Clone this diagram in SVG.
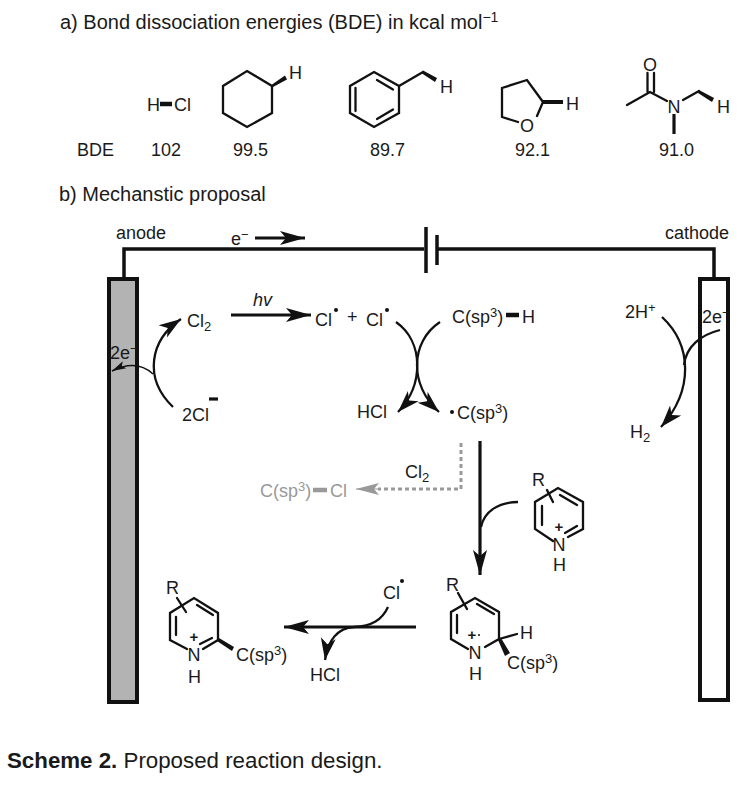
<svg xmlns="http://www.w3.org/2000/svg" width="752" height="785" viewBox="0 0 752 785">
<style>
text{font-family:"Liberation Sans",Arial,sans-serif;font-size:18px;fill:#1a1a1a}
.h{font-size:20px}
.cap{font-size:22.300px}
.sub{font-size:13px}
.hs{font-size:14px}
.g{fill:#999}
.p{font-weight:bold;font-size:15px;text-anchor:middle}
.b{fill:none;stroke:#111;stroke-width:2.300;stroke-linecap:round;stroke-linejoin:miter}
.c{fill:none;stroke:#111;stroke-width:2.300}
.w{fill:#111;stroke:none}
.bold{fill:none;stroke:#111;stroke-width:4.500}
.bar{fill:none;stroke:#111;stroke-width:3.200}
</style>
<defs>
<marker id="big" markerUnits="userSpaceOnUse" markerWidth="28" markerHeight="18" refX="25" refY="9" orient="auto"><path d="M0 2 L25 9 L0 16 L6 9Z" fill="#111"/></marker>
<marker id="mid" markerUnits="userSpaceOnUse" markerWidth="26" markerHeight="18" refX="22" refY="9" orient="auto"><path d="M0 1.500 L22 9 L0 16.500 L6 9Z" fill="#111"/></marker>
<marker id="small" markerUnits="userSpaceOnUse" markerWidth="18" markerHeight="12" refX="14" refY="6" orient="auto"><path d="M0 2 L14 6 L0 10 L3 6Z" fill="#111"/></marker>
<marker id="gray" markerUnits="userSpaceOnUse" markerWidth="26" markerHeight="16" refX="23" refY="8" orient="auto"><path d="M0 2 L23 8 L0 14 L5 8Z" fill="#999"/></marker>
</defs>
<rect width="752" height="785" fill="#fff"/>

<g id="headings">
<text class="h" x="60" y="29">a) Bond dissociation energies (BDE) in kcal mol<tspan class="hs" dy="-7">−1</tspan></text>
<text class="h" x="59" y="201">b) Mechanstic proposal</text>
<text x="77" y="156">BDE</text>
<text class="cap" x="7" y="768"><tspan font-weight="bold">Scheme 2.</tspan> Proposed reaction design.</text>
</g>

<g id="hcl">
<text x="147" y="111">H</text><path class="bold" d="M160 104H172"/><text x="174" y="111">Cl</text>
<text x="151" y="156">102</text>
</g>
<g id="cyclohexane">
<path class="b" d="M247 71L272 86V113L247 127L223 113V86Z"/><path class="w" d="M272 84.500L285 75.500L287 79.500L273 87Z"/>
<text x="289" y="79">H</text><text x="233" y="156">99.5</text>
</g>
<g id="toluene">
<path class="b" d="M374 72L399 86V113L374 127L350 113V86Z"/>
<path class="b" d="M355.500 88V111M377 80L393 89.500M377 119L393 109.500"/>
<path class="b" d="M399 86L423 72"/><path class="w" d="M423 70.500L437 78L435 82L422 73.500Z"/>
<text x="440" y="93">H</text><text x="370" y="156">89.7</text>
</g>
<g id="thf">
<path class="b" d="M518 122L502 117V88L527 80L543 102L537 116"/><path class="w" d="M543 100L563 100V104L543 104Z"/>
<text x="520" y="132">O</text><text x="566" y="110">H</text><text x="515" y="156">92.1</text>
</g>
<g id="amide">
<path class="b" d="M627 105L650 92L667 101M647.500 73V92M654 73V92M683 100L699 91"/><path class="w" d="M699 90L714 98L712 102L698 93Z"/>
<path class="bar" d="M674 114V134"/>
<text x="643" y="71">O</text><text x="667.500" y="113">N</text><text x="717" y="113">H</text><text x="659" y="156">91.0</text>
</g>

<g id="anode">
<rect x="109" y="279" width="28" height="423" fill="#b3b3b3" stroke="#111" stroke-width="4"/>
<text x="116" y="239">anode</text>
<text x="110" y="359">2e<tspan class="sub" dy="-6">−</tspan></text>
</g>
<g id="cathode">
<rect x="700" y="279" width="28" height="421" fill="#fff" stroke="#111" stroke-width="4"/>
<text x="665" y="239">cathode</text>
<text x="702" y="323">2e<tspan class="sub" dy="-6">−</tspan></text>
</g>
<g id="electron"><text x="231" y="245">e<tspan class="sub" dy="-6">−</tspan></text></g>
<g id="species">
<text x="187" y="327">Cl<tspan class="sub" dy="4">2</tspan></text>
<text x="182" y="421">2Cl</text><path class="bar" d="M209 399H218"/>
<text x="253" y="306" font-style="italic">hv</text>
<text x="315" y="326">Cl</text><circle class="w" cx="336" cy="310" r="2"/>
<text x="347" y="323" font-size="15">+</text>
<text x="366" y="326">Cl</text><circle class="w" cx="387" cy="310" r="2"/>
<text x="452" y="323">C(sp<tspan class="sub" dy="-6">3</tspan><tspan dy="6">)</tspan></text><path class="bold" d="M506 315H519"/><text x="522" y="323">H</text>
<text x="357" y="418">HCl</text>
<circle class="w" cx="452" cy="412" r="2"/><text x="457" y="419">C(sp<tspan class="sub" dy="-6">3</tspan><tspan dy="6">)</tspan></text>
<text x="625" y="318">2H<tspan class="sub" dy="-6">+</tspan></text>
<text x="630" y="438">H<tspan class="sub" dy="4">2</tspan></text>
<text x="405" y="478">Cl<tspan class="sub" dy="4">2</tspan></text>
<text class="g" x="260" y="497">C(sp<tspan class="sub g" dy="-6">3</tspan><tspan class="g" dy="6">)</tspan></text>
<path d="M313 490H327" fill="none" stroke="#999" stroke-width="4.500"/><text class="g" x="330" y="497">Cl</text>
<text x="383" y="599">Cl</text><circle class="w" cx="402" cy="581" r="2"/>
<text x="310" y="681">HCl</text>
</g>

<g id="pyridinium">
<path class="b" d="M553 541L535 529V502L558 488L583 502V529L568 537"/>
<path class="b" d="M542 506V525M560 495L577 505M577 526L565 533M547 490L553 502"/>
<text x="532" y="486">R</text><text x="552.500" y="551">N</text><text x="553" y="571">H</text>
<text class="p" x="559" y="532">+</text>
</g>
<g id="radical-cation">
<path class="b" d="M468 649L451 639V612L475 598L499 612V639L485 647"/>
<path class="b" d="M457 615V633M477 604L494 614M458 593L467 609M499 639L517 634"/>
<path class="w" d="M498 640L501 638L510 653L505 656Z"/>
<text x="446" y="591">R</text><text x="468.500" y="659">N</text><text x="469" y="680">H</text>
<text x="520" y="639">H</text><text x="507" y="669">C(sp<tspan class="sub" dy="-6">3</tspan><tspan dy="6">)</tspan></text>
<text class="p" x="472" y="640">+</text><circle class="w" cx="479" cy="635" r="1"/>
</g>
<g id="product">
<path class="b" d="M187 649L170 640V613L194 598L218 613V640L203 649"/>
<path class="b" d="M176 617V635M197 605L213 615M212 638L200 644M177 598L186 612"/>
<path class="w" d="M217 641L219 638L234 647L232 651Z"/>
<text x="166" y="594">R</text><text x="187.500" y="661">N</text><text x="188" y="683">H</text>
<text x="236" y="661">C(sp<tspan class="sub" dy="-6">3</tspan><tspan dy="6">)</tspan></text>
<text class="p" x="194" y="642">+</text>
</g>

<g id="connectors">
<path d="M124 281V249H424M438 249H714V279" fill="none" stroke="#111" stroke-width="3.500"/>
<path d="M426 227V273M437 235V265" fill="none" stroke="#111" stroke-width="3.500"/>
<path class="bar" marker-end="url(#big)" d="M255 238H305"/>
<path class="bar" marker-end="url(#big)" d="M231 315H311"/>
<path class="c" marker-end="url(#mid)" d="M173 407C143 378 150 340 181 319"/>
<path fill="none" stroke="#111" stroke-width="1.500" marker-end="url(#small)" d="M153 374C142 364 128 363 112 371"/>
<path class="c" marker-end="url(#mid)" d="M396 322C424 342 424 385 398 412"/>
<path class="c" marker-end="url(#mid)" d="M440 322C410 342 409 385 439 412"/>
<path class="c" marker-end="url(#mid)" d="M662 317C692 345 694 390 661 427"/>
<path class="c" d="M720 330C700 335 686 347 684 365"/>
<path d="M461 443V489H378" fill="none" stroke="#999" stroke-width="3" stroke-dasharray="4 3"/>
<path d="M378 489H356" stroke="#999" stroke-width="1" marker-end="url(#gray)"/>
<path class="bar" marker-end="url(#big)" d="M480 441V575"/>
<path class="c" d="M518 502C498 502 484 512 481 527"/>
<path class="bar" marker-end="url(#big)" d="M416 627H284"/>
<path class="c" marker-end="url(#mid)" d="M388 607C382 620 372 626 354 627C338 628 328 640 325 660"/>
</g>
</svg>
